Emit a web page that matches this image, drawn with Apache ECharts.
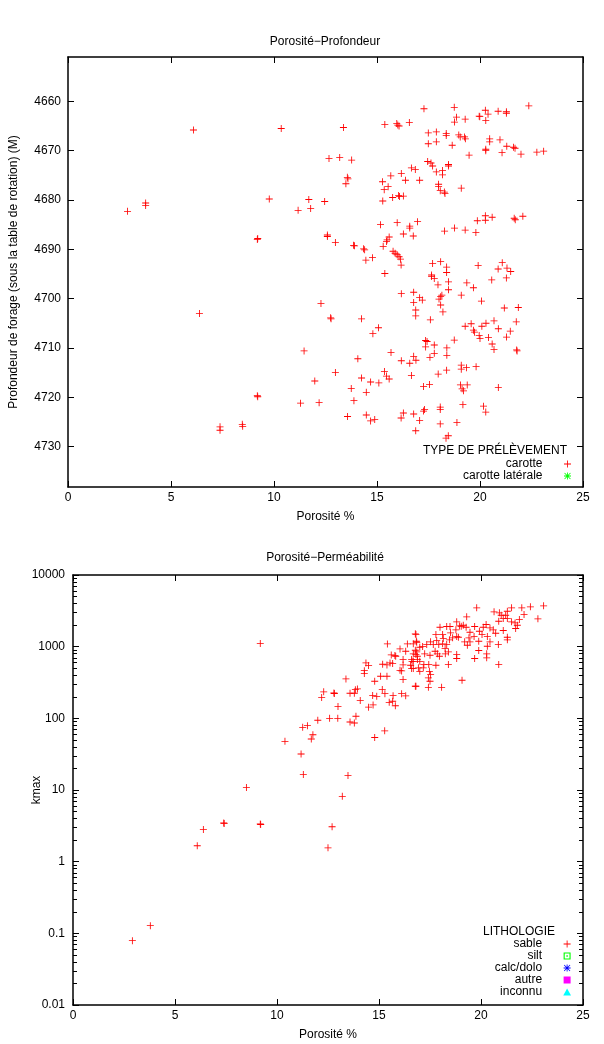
<!DOCTYPE html>
<html>
<head>
<meta charset="utf-8">
<script src="https://cdn.jsdelivr.net/npm/echarts@6/dist/echarts.min.js"></script>
<style>
html, body { margin: 0; background: #fff; }
#chart { width: 604px; height: 1044px; }
</style>
</head>
<body>
<div id="chart"></div>
<script>
// Porosité-Profondeur : carottes
var carottePorosite = [
  6.09, 2.89, 3.77, 3.77, 10.35, 9.77, 9.19, 9.21, 6.38, 7.38,
  7.38, 8.46, 8.48, 9.19, 9.21, 13.37, 15.38, 15.96, 16.01, 16.07,
  16.57, 17.28, 18.75, 18.86, 18.76, 19.28, 19.96, 19.99, 20.26, 20.39,
  20.28, 20.88, 21.28, 21.28, 22.37, 17.49, 17.88, 18.36, 18.36, 18.97,
  19.04, 19.25, 19.29, 17.49, 17.88, 18.65, 20.47, 20.47, 20.97, 20.28,
  20.28, 19.47, 21.07, 21.3, 21.63, 21.7, 21.99, 22.76, 23.09, 12.67,
  13.19, 13.77, 17.46, 17.62, 17.7, 17.88, 18.18, 18.18, 18.47, 18.47,
  13.56, 13.59, 13.49, 15.27, 15.67, 16.18, 16.38, 16.67, 16.86, 17.07,
  17.99, 17.99, 18.07, 18.27, 18.3, 19.09, 15.54, 15.35, 15.28, 15.76,
  16.05, 16.09, 16.28, 11.69, 12.46, 11.17, 11.78, 15.17, 15.98, 16.59,
  16.59, 16.97, 16.28, 16.76, 18.28, 18.76, 19.28, 19.8, 19.87, 20.26,
  20.26, 20.59, 21.66, 21.71, 22.08, 12.59, 12.59, 12.98, 13.86, 13.91,
  14.35, 14.4, 14.46, 14.78, 15.3, 15.46, 15.49, 15.59, 15.78, 15.88,
  15.98, 16.07, 16.14, 16.17, 17.7, 18.09, 18.38, 19.91, 21.08, 20.88,
  21.31, 15.38, 18.38, 17.65, 17.65, 17.78, 17.96, 18.47, 18.47, 18.09,
  18.15, 18.01, 18.09, 18.2, 16.78, 16.78, 17.07, 17.2, 16.88, 16.88,
  16.18, 19.36, 19.68, 19.09, 20.07, 20.57, 21.28, 21.49, 21.18, 21.86,
  12.28, 12.75, 12.77, 14.25, 15.07, 14.8, 17.59, 17.36, 17.43, 17.36,
  17.78, 17.78, 17.57, 18.39, 18.39, 18.75, 19.28, 19.57, 19.68, 19.73,
  19.96, 20.0, 20.09, 20.29, 20.41, 20.68, 20.89, 21.47, 21.29, 20.59,
  20.68, 21.76, 21.78, 21.8, 11.46, 14.07, 15.68, 16.18, 16.59, 16.78,
  16.89, 12.98, 11.98, 14.25, 14.69, 15.09, 15.36, 15.46, 15.59, 16.67,
  17.97, 18.38, 19.09, 19.09, 19.34, 19.81, 13.75, 14.48, 13.88, 11.29,
  12.19, 17.26, 17.55, 19.05, 19.13, 19.2, 19.38, 20.89, 13.57, 14.48,
  14.69, 14.89, 16.17, 16.28, 16.78, 17.07, 16.88, 17.26, 17.31, 18.07,
  18.07, 18.07, 18.88, 18.35, 18.46, 19.17, 20.17, 20.28
];
var carotteProfondeur = [
  4665.8, 4682.3, 4680.6, 4681.1, 4665.5, 4679.8, 4688.0, 4687.8, 4703.0, 4726.0,
  4726.7, 4725.5, 4725.9, 4719.7, 4719.9, 4665.3, 4664.7, 4664.5, 4664.8, 4665.0,
  4664.3, 4661.5, 4661.2, 4663.2, 4664.2, 4663.6, 4663.0, 4663.1, 4661.8, 4662.6,
  4663.9, 4662.0, 4662.1, 4662.4, 4660.9, 4666.4, 4666.2, 4666.5, 4666.9, 4666.8,
  4667.2, 4667.2, 4667.6, 4668.6, 4668.2, 4668.9, 4667.6, 4668.2, 4667.8, 4669.7,
  4670.0, 4670.9, 4670.4, 4669.1, 4669.3, 4669.5, 4670.7, 4670.3, 4670.1, 4671.6,
  4671.4, 4671.9, 4672.2, 4672.5, 4673.1, 4674.3, 4674.0, 4674.9, 4672.8, 4673.1,
  4675.4, 4675.7, 4676.7, 4676.3, 4675.1, 4674.6, 4676.0, 4673.5, 4673.8, 4676.0,
  4676.8, 4677.3, 4678.1, 4678.4, 4678.7, 4677.6, 4677.3, 4677.9, 4680.2, 4679.5,
  4679.1, 4679.3, 4679.2, 4679.9, 4680.3, 4682.1, 4681.7, 4685.0, 4684.6, 4685.3,
  4685.7, 4684.4, 4686.9, 4687.3, 4686.3, 4685.7, 4686.1, 4686.6, 4684.2, 4683.2,
  4684.1, 4683.5, 4683.7, 4684.0, 4683.3, 4687.1, 4687.4, 4688.6, 4689.2, 4689.3,
  4689.9, 4690.1, 4692.2, 4691.7, 4689.4, 4688.4, 4688.1, 4687.5, 4690.4, 4690.8,
  4691.1, 4691.5, 4692.0, 4693.2, 4692.9, 4692.5, 4693.6, 4693.3, 4692.7, 4694.0,
  4693.8, 4694.9, 4694.7, 4695.2, 4695.5, 4695.9, 4697.2, 4696.6, 4698.2, 4699.6,
  4699.3, 4700.1, 4701.3, 4702.7, 4698.7, 4700.8, 4699.8, 4700.3, 4702.3, 4703.5,
  4699.0, 4696.8, 4697.8, 4699.3, 4700.5, 4696.2, 4695.8, 4694.5, 4701.9, 4701.8,
  4701.0, 4703.9, 4704.1, 4704.1, 4705.9, 4707.1, 4704.3, 4708.5, 4708.7, 4709.8,
  4709.4, 4711.1, 4711.9, 4710.0, 4711.5, 4708.4, 4705.6, 4705.1, 4706.4, 4706.8,
  4707.5, 4708.1, 4705.6, 4705.0, 4707.9, 4704.5, 4706.1, 4706.6, 4707.8, 4709.2,
  4710.3, 4704.7, 4710.4, 4710.6, 4710.6, 4712.2, 4710.9, 4712.6, 4713.1, 4711.7,
  4712.5, 4715.0, 4716.7, 4716.1, 4716.9, 4717.1, 4714.8, 4715.7, 4716.3, 4715.6,
  4715.3, 4714.5, 4713.5, 4714.3, 4714.0, 4713.8, 4718.2, 4719.0, 4720.7, 4721.2,
  4721.1, 4717.8, 4717.4, 4717.5, 4718.3, 4718.7, 4717.5, 4718.0, 4723.9, 4723.6,
  4724.8, 4724.5, 4724.2, 4723.2, 4723.4, 4724.7, 4726.8, 4722.8, 4722.5, 4722.0,
  4722.5, 4725.4, 4725.1, 4728.3, 4727.8, 4721.5, 4721.8, 4723.0
];

// Porosité-Perméabilité : sable
var sablePorosite = [
  2.91, 3.79, 6.09, 6.39, 7.39, 7.41, 8.5, 9.18, 9.2, 9.18,
  10.39, 11.18, 11.29, 13.48, 13.2, 12.5, 12.7, 11.26, 11.49, 11.76,
  11.68, 12.0, 12.19, 12.29, 12.58, 12.98, 12.79, 12.81, 12.99, 13.38,
  13.58, 13.79, 13.87, 13.58, 13.79, 13.84, 13.94, 14.08, 14.28, 14.28,
  14.36, 14.49, 14.49, 14.71, 14.69, 14.89, 14.79, 15.28, 14.79, 15.08,
  15.39, 15.16, 15.29, 15.5, 15.67, 15.8, 15.69, 16.11, 16.31, 15.41,
  15.18, 15.39, 15.54, 15.67, 15.82, 15.6, 15.78, 16.03, 16.39, 16.18,
  16.18, 16.11, 16.03, 16.18, 16.31, 16.6, 16.6, 16.68, 16.78, 16.85,
  16.78, 16.88, 16.78, 16.93, 23.07, 22.42, 22.0, 22.79, 22.11, 21.5,
  21.29, 21.21, 21.29, 20.99, 21.09, 20.9, 20.87, 20.64, 19.79, 19.3,
  21.67, 21.78, 21.5, 21.88, 21.7, 21.09, 21.29, 21.29, 20.85, 20.6,
  20.72, 20.44, 20.25, 20.11, 20.31, 20.44, 20.31, 20.28, 20.28, 19.92,
  20.05, 19.89, 19.66, 19.46, 19.69, 19.41, 19.33, 19.46, 19.2, 19.89,
  19.69, 20.87, 19.07, 19.27, 19.13, 19.03, 18.94, 18.81, 18.77, 18.81,
  18.89, 18.48, 18.51, 18.61, 18.32, 17.99, 18.45, 18.32, 18.12, 18.15,
  18.12, 18.24, 18.4, 18.25, 17.79, 17.83, 17.93, 17.66, 17.75, 17.86,
  17.96, 17.53, 17.34, 17.14, 17.24, 17.5, 17.44, 17.79, 17.47, 17.53,
  18.4, 18.81, 18.81, 16.81, 16.83, 16.68, 17.0, 16.85, 16.68, 16.81,
  16.88, 17.0, 17.2, 16.62, 16.55, 17.0, 17.17, 16.68, 16.81, 17.42,
  18.07, 17.5, 17.42
];
var sableKmax = [
  0.079, 0.128, 1.67, 2.82, 3.46, 3.4, 10.8, 3.35, 3.3, 1105,
  47.7, 31.8, 16.4, 15.9, 8.15, 1.56, 3.07, 74.8, 79, 59,
  51.5, 94, 196, 234, 100, 100, 226, 222, 146, 355,
  89, 86, 107, 224, 224, 251, 257, 177, 463, 421,
  594, 545, 143, 154, 209, 203, 54, 67, 329, 386,
  386, 252, 221, 167, 173, 150, 207, 221, 206, 1093,
  568, 557, 594, 581, 734, 767, 751, 931, 1093, 661,
  557, 459, 468, 347, 862, 661, 495, 625, 1510, 1151,
  891, 734, 280, 506, 3715, 3597, 3483, 2443, 2805, 3486,
  3119, 2747, 2468, 2747, 2468, 2965, 2266, 3060, 3486, 2606,
  2147, 1990, 2218, 2389, 1791, 1679, 1352, 1245, 1069, 1718,
  1538, 1828, 2037, 1866, 1384, 1167, 1014, 794, 698, 1641,
  1476, 1189, 1384, 1589, 1910, 1327, 1047, 1167, 1167, 883,
  683, 562, 340, 1866, 1990, 1928, 1950, 2218, 1718, 1384,
  1352, 1910, 1560, 1327, 1910, 1866, 1245, 1069, 1476, 1297,
  1094, 940, 845, 794, 1476, 1216, 1069, 1069, 863, 794,
  734, 1167, 1069, 1002, 794, 759, 562, 550, 453, 407,
  562, 776, 683, 1476, 1189, 1094, 982, 845, 794, 776,
  661, 625, 562, 625, 550, 453, 506, 494, 280, 271,
  271, 329, 366
];

var profondeurTicks = [4660, 4670, 4680, 4690, 4700, 4710, 4720, 4730];
var kmaxTicks = [0.01, 0.1, 1, 10, 100, 1000, 10000];
var kmaxLabels = ['0.01', '0.1', '1', '10', '100', '1000', '10000'];

// log minor ticks 2..9 in each decade
var kmaxMinor = [];
for (var d = 0; d < kmaxTicks.length - 1; d++) {
  for (var m = 2; m <= 9; m++) {
    kmaxMinor.push(+(m * kmaxTicks[d]).toPrecision(3));
  }
}

function zip(a, b) {
  return a.map(function (v, i) { return [v, b[i]]; });
}

var FONT = 'Liberation Sans';
var plusPath = 'path://M4.4,0H5.6V4.4H10V5.6H5.6V10H4.4V5.6H0V4.4H4.4Z';
var starPath = 'path://M4.4,0H5.6V4.4H10V5.6H5.6V10H4.4V5.6H0V4.4H4.4Z' +
  'M0.4,1.2L1.2,0.4L9.6,8.8L8.8,9.6Z M8.8,0.4L9.6,1.2L1.2,9.6L0.4,8.8Z';
var boxDotPath = 'path://M0,0H10V10H0Z M1.6,1.6V8.4H8.4V1.6Z M4,4H6V6H4Z';
var squarePath = 'path://M0,0H10V10H0Z';
var trianglePath = 'path://M5,0L10,9H0Z';

var txt = { color: '#000', fontSize: 12, fontFamily: FONT };
var line = { color: '#000', width: 1.5 };

function xAx(grid, pos, nameGap) {
  return {
    gridIndex: grid, type: 'value', position: pos, min: 0, max: 25, interval: 5,
    name: pos === 'bottom' ? 'Porosité %' : '', nameLocation: 'middle', nameGap: nameGap,
    nameTextStyle: txt, nameMoveOverlap: false,
    axisLine: { show: true, onZero: false, lineStyle: line },
    axisTick: { show: true, inside: true, length: 6, lineStyle: { color: '#000', width: 1 } },
    axisLabel: { show: pos === 'bottom', margin: 5, color: '#000', fontSize: 12, fontFamily: FONT },
    splitLine: { show: false }
  };
}

function depthAx(pos) {
  return {
    gridIndex: 0, type: 'value', position: pos, inverse: true, min: 4651, max: 4738.2,
    name: pos === 'left' ? 'Profondeur de forage (sous la table de rotation) (M)' : '',
    nameLocation: 'middle', nameGap: 48, nameTextStyle: txt, nameMoveOverlap: false,
    axisLine: { show: true, onZero: false, lineStyle: line },
    axisTick: { show: true, inside: true, length: 6, customValues: profondeurTicks,
      lineStyle: { color: '#000', width: 1 } },
    axisLabel: { show: pos === 'left', margin: 7, customValues: profondeurTicks,
      color: '#000', fontSize: 12, fontFamily: FONT,
      formatter: function (v) { return String(Math.round(v)); } },
    splitLine: { show: false }
  };
}

function kmaxAx(pos, minor) {
  return {
    gridIndex: 1, type: 'log', logBase: 10, position: pos, min: 0.01, max: 10000,
    name: (pos === 'left' && !minor) ? 'kmax' : '',
    nameLocation: 'middle', nameGap: 30, nameTextStyle: txt, nameMoveOverlap: false,
    axisLine: { show: !minor, onZero: false, lineStyle: line },
    axisTick: { show: true, inside: true, length: minor ? 4 : 6,
      customValues: minor ? kmaxMinor : kmaxTicks, lineStyle: { color: '#000', width: 1 } },
    axisLabel: { show: pos === 'left' && !minor, margin: 8, customValues: kmaxTicks,
      color: '#000', fontSize: 12, fontFamily: FONT,
      formatter: function (v) {
        var i = kmaxTicks.findIndex(function (t) { return Math.abs(Math.log10(t) - Math.log10(v)) < 1e-6; });
        return i >= 0 ? kmaxLabels[i] : '';
      } },
    splitLine: { show: false }
  };
}

function scatter(name, xi, yi, data, symbol, color, size) {
  return {
    name: name, type: 'scatter', xAxisIndex: xi, yAxisIndex: yi,
    data: data, symbol: symbol, symbolSize: size, symbolKeepAspect: true,
    itemStyle: { color: color, opacity: 1 },
    emphasis: { disabled: true }, animation: false
  };
}

var legendBase = {
  orient: 'vertical', align: 'right', right: 33, padding: 0,
  itemWidth: 40, itemHeight: 7, itemGap: 0, selectedMode: false,
  textStyle: { color: '#000', fontSize: 12, fontFamily: FONT, lineHeight: 12 }
};

var chart = echarts.init(document.getElementById('chart'), null, { renderer: 'canvas' });
chart.setOption({
  animation: false,
  backgroundColor: '#fff',
  textStyle: { fontFamily: FONT },
  title: [
    { text: 'Porosité−Profondeur', left: 325, top: 36, textAlign: 'center', padding: 0,
      textStyle: { color: '#000', fontSize: 12, fontWeight: 'normal', fontFamily: FONT } },
    { text: 'Porosité−Perméabilité', left: 325, top: 552, textAlign: 'center', padding: 0,
      textStyle: { color: '#000', fontSize: 12, fontWeight: 'normal', fontFamily: FONT } },
    { text: 'TYPE DE PRÉLÈVEMENT', left: 495, top: 445, textAlign: 'center', padding: 0,
      textStyle: { color: '#000', fontSize: 12, fontWeight: 'normal', fontFamily: FONT } },
    { text: 'LITHOLOGIE', left: 519, top: 926, textAlign: 'center', padding: 0,
      textStyle: { color: '#000', fontSize: 12, fontWeight: 'normal', fontFamily: FONT } }
  ],
  legend: [
    Object.assign({}, legendBase, { top: 458, data: ['carotte', 'carotte latérale'] }),
    Object.assign({}, legendBase, { top: 938, data: ['sable', 'silt', 'calc/dolo', 'autre', 'inconnu'] })
  ],
  grid: [
    { left: 66, right: 21, top: 57, bottom: 557 },
    { left: 73, right: 21, top: 575, bottom: 39 }
  ],
  xAxis: [
    xAx(0, 'bottom', 24), xAx(0, 'top', 0),
    xAx(1, 'bottom', 24), xAx(1, 'top', 0)
  ],
  yAxis: [
    depthAx('left'), depthAx('right'),
    kmaxAx('left', false), kmaxAx('left', true),
    kmaxAx('right', false), kmaxAx('right', true)
  ],
  series: [
    scatter('carotte', 0, 0, zip(carottePorosite, carotteProfondeur), plusPath, '#ff0000', 7),
    scatter('carotte latérale', 0, 0, [], starPath, '#00ff00', 7),
    scatter('sable', 2, 2, zip(sablePorosite, sableKmax), plusPath, '#ff0000', 7),
    scatter('silt', 2, 2, [], boxDotPath, '#00ff00', 7),
    scatter('calc/dolo', 2, 2, [], starPath, '#0000ff', 7),
    scatter('autre', 2, 2, [], squarePath, '#ff00ff', 7),
    scatter('inconnu', 2, 2, [], trianglePath, '#00ffff', 7)
  ]
});
</script>
</body>
</html>
